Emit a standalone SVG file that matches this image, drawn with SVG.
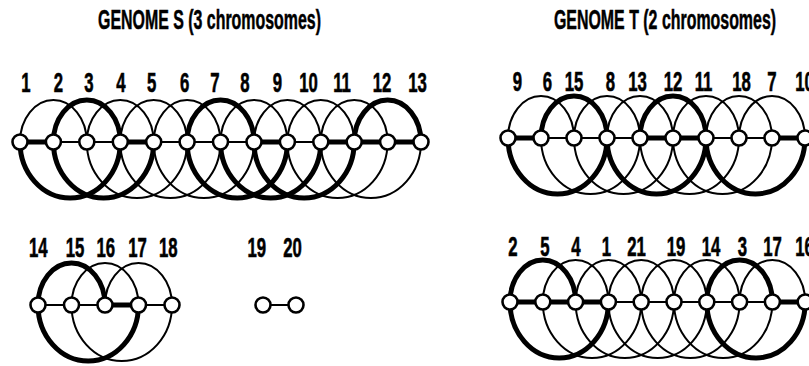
<svg xmlns="http://www.w3.org/2000/svg" width="809" height="366" viewBox="0 0 809 366">
<style>
.bg{fill:#fff}
.t{font-family:"Liberation Sans",Arial,sans-serif;font-weight:bold;font-size:27px;text-anchor:middle;fill:#000;stroke:#000;stroke-width:0.6}
.ti{font-family:"Liberation Sans",Arial,sans-serif;font-weight:bold;font-size:27px;text-anchor:middle;fill:#000;stroke:#000;stroke-width:0.5}
.a{fill:none;stroke:#000;stroke-width:2;stroke-linecap:round}
.k{fill:none;stroke:#000;stroke-width:5;stroke-linecap:round}
.n{fill:#fff;stroke:#000;stroke-width:2.6}
</style>
<rect class="bg" x="0" y="0" width="809" height="366"/>
<g id="titles">
<text class="ti" transform="translate(209.5,29) scale(0.59,1)">GENOME S (3 chromosomes)</text>
<text class="ti" transform="translate(665,29) scale(0.59,1)">GENOME T (2 chromosomes)</text>
</g>
<g id="connectors">
<!-- Genome S chromosome 1 -->
<path class="a" d="M20 142A33.4 42 0 0 1 86.8 142"/>
<path class="k" d="M53.4 142A33.45 42 0 0 1 120.3 142"/>
<path class="a" d="M86.8 142A33.45 42 0 0 1 153.7 142"/>
<path class="a" d="M120.3 142A33.4 42 0 0 1 187.1 142"/>
<path class="a" d="M153.7 142A33.4 42 0 0 1 220.5 142"/>
<path class="k" d="M187.1 142A33.45 42 0 0 1 254 142"/>
<path class="a" d="M220.5 142A33.45 42 0 0 1 287.4 142"/>
<path class="a" d="M254 142A33.4 42 0 0 1 320.8 142"/>
<path class="a" d="M287.4 142A33.4 42 0 0 1 354.2 142"/>
<path class="a" d="M320.8 142A33.4 42 0 0 1 387.6 142"/>
<path class="k" d="M354.2 142A33.4 42 0 0 1 421 142"/>
<path class="k" d="M20 142A50.15 56 0 0 0 120.3 142"/>
<path class="k" d="M53.4 142A50.15 56 0 0 0 153.7 142"/>
<path class="a" d="M86.8 142A50.15 56 0 0 0 187.1 142"/>
<path class="a" d="M120.3 142A50.1 56 0 0 0 220.5 142"/>
<path class="a" d="M153.7 142A50.15 56 0 0 0 254 142"/>
<path class="k" d="M187.1 142A50.15 56 0 0 0 287.4 142"/>
<path class="k" d="M220.5 142A50.15 56 0 0 0 320.8 142"/>
<path class="k" d="M254 142A50.1 56 0 0 0 354.2 142"/>
<path class="a" d="M287.4 142A50.1 56 0 0 0 387.6 142"/>
<path class="a" d="M320.8 142A50.1 56 0 0 0 421 142"/>
<path class="k" d="M20 142H53.4"/>
<path class="a" d="M53.4 142H120.3"/>
<path class="k" d="M120.3 142H153.7"/>
<path class="a" d="M153.7 142H254"/>
<path class="k" d="M254 142H287.4"/>
<path class="a" d="M287.4 142H320.8"/>
<path class="k" d="M320.8 142H421"/>
<!-- Genome S chromosome 2 -->
<path class="k" d="M38 305A33.5 42 0 0 1 105 305"/>
<path class="a" d="M71.5 305A33.5 42 0 0 1 138.5 305"/>
<path class="a" d="M105 305A33.5 42 0 0 1 172 305"/>
<path class="k" d="M38 305A50.25 56 0 0 0 138.5 305"/>
<path class="a" d="M71.5 305A50.25 56 0 0 0 172 305"/>
<path class="a" d="M38 305H105"/>
<path class="k" d="M105 305H138.5"/>
<path class="a" d="M138.5 305H172"/>
<!-- Genome S chromosome 3 -->
<path class="a" d="M263 305H296"/>
<!-- Genome T chromosome 1 -->
<path class="a" d="M508 138A33 42 0 0 1 574 138"/>
<path class="k" d="M541 138A33 42 0 0 1 607 138"/>
<path class="a" d="M574 138A33 42 0 0 1 640 138"/>
<path class="a" d="M607 138A33 42 0 0 1 673 138"/>
<path class="k" d="M640 138A33 42 0 0 1 706 138"/>
<path class="a" d="M673 138A33 42 0 0 1 739 138"/>
<path class="a" d="M706 138A33 42 0 0 1 772 138"/>
<path class="a" d="M739 138A33 42 0 0 1 805 138"/>
<path class="k" d="M508 138A49.5 56 0 0 0 607 138"/>
<path class="a" d="M541 138A49.5 56 0 0 0 640 138"/>
<path class="a" d="M574 138A49.5 56 0 0 0 673 138"/>
<path class="k" d="M607 138A49.5 56 0 0 0 706 138"/>
<path class="a" d="M640 138A49.5 56 0 0 0 739 138"/>
<path class="a" d="M673 138A49.5 56 0 0 0 772 138"/>
<path class="k" d="M706 138A49.5 56 0 0 0 805 138"/>
<path class="k" d="M508 138H541"/>
<path class="a" d="M541 138H640"/>
<path class="k" d="M640 138H706"/>
<path class="a" d="M706 138H772"/>
<path class="k" d="M772 138H805"/>
<!-- Genome T chromosome 2 -->
<path class="k" d="M510 302A32.8 42 0 0 1 575.6 302"/>
<path class="a" d="M542.8 302A32.8 42 0 0 1 608.4 302"/>
<path class="a" d="M575.6 302A32.8 42 0 0 1 641.2 302"/>
<path class="a" d="M608.4 302A32.8 42 0 0 1 674 302"/>
<path class="a" d="M641.2 302A32.8 42 0 0 1 706.8 302"/>
<path class="a" d="M674 302A32.8 42 0 0 1 739.6 302"/>
<path class="k" d="M706.8 302A32.8 42 0 0 1 772.4 302"/>
<path class="a" d="M739.6 302A32.8 42 0 0 1 805.2 302"/>
<path class="k" d="M510 302A49.2 56 0 0 0 608.4 302"/>
<path class="a" d="M542.8 302A49.2 56 0 0 0 641.2 302"/>
<path class="a" d="M575.6 302A49.2 56 0 0 0 674 302"/>
<path class="a" d="M608.4 302A49.2 56 0 0 0 706.8 302"/>
<path class="a" d="M641.2 302A49.2 56 0 0 0 739.6 302"/>
<path class="a" d="M674 302A49.2 56 0 0 0 772.4 302"/>
<path class="k" d="M706.8 302A49.2 56 0 0 0 805.2 302"/>
<path class="k" d="M510 302H608.4"/>
<path class="a" d="M608.4 302H772.4"/>
<path class="k" d="M772.4 302H805.2"/>
</g>
<g id="genomeS">
<g id="s1"><circle class="n" cx="20" cy="142" r="7.5"/><text class="t" transform="translate(26,92) scale(0.62,1)">1</text></g>
<g id="s2"><circle class="n" cx="53.4" cy="142" r="7.5"/><text class="t" transform="translate(58.5,92) scale(0.62,1)">2</text></g>
<g id="s3"><circle class="n" cx="86.8" cy="142" r="7.5"/><text class="t" transform="translate(89,92) scale(0.62,1)">3</text></g>
<g id="s4"><circle class="n" cx="120.3" cy="142" r="7.5"/><text class="t" transform="translate(121,92) scale(0.62,1)">4</text></g>
<g id="s5"><circle class="n" cx="153.7" cy="142" r="7.5"/><text class="t" transform="translate(151.7,92) scale(0.62,1)">5</text></g>
<g id="s6"><circle class="n" cx="187.1" cy="142" r="7.5"/><text class="t" transform="translate(184.7,92) scale(0.62,1)">6</text></g>
<g id="s7"><circle class="n" cx="220.5" cy="142" r="7.5"/><text class="t" transform="translate(215,92) scale(0.62,1)">7</text></g>
<g id="s8"><circle class="n" cx="254" cy="142" r="7.5"/><text class="t" transform="translate(245,92) scale(0.62,1)">8</text></g>
<g id="s9"><circle class="n" cx="287.4" cy="142" r="7.5"/><text class="t" transform="translate(277.5,92) scale(0.62,1)">9</text></g>
<g id="s10"><circle class="n" cx="320.8" cy="142" r="7.5"/><text class="t" transform="translate(308.5,92) scale(0.62,1)">10</text></g>
<g id="s11"><circle class="n" cx="354.2" cy="142" r="7.5"/><text class="t" transform="translate(342,92) scale(0.62,1)">11</text></g>
<g id="s12"><circle class="n" cx="387.6" cy="142" r="7.5"/><text class="t" transform="translate(382,92) scale(0.62,1)">12</text></g>
<g id="s13"><circle class="n" cx="421" cy="142" r="7.5"/><text class="t" transform="translate(417.5,92) scale(0.62,1)">13</text></g>
<g id="s14"><circle class="n" cx="38" cy="305" r="7.5"/><text class="t" transform="translate(38.3,257) scale(0.62,1)">14</text></g>
<g id="s15"><circle class="n" cx="71.5" cy="305" r="7.5"/><text class="t" transform="translate(75,257) scale(0.62,1)">15</text></g>
<g id="s16"><circle class="n" cx="105" cy="305" r="7.5"/><text class="t" transform="translate(105.8,257) scale(0.62,1)">16</text></g>
<g id="s17"><circle class="n" cx="138.5" cy="305" r="7.5"/><text class="t" transform="translate(137.5,257) scale(0.62,1)">17</text></g>
<g id="s18"><circle class="n" cx="172" cy="305" r="7.5"/><text class="t" transform="translate(168.3,257) scale(0.62,1)">18</text></g>
<g id="s19"><circle class="n" cx="263" cy="305" r="7.5"/><text class="t" transform="translate(256.7,257) scale(0.62,1)">19</text></g>
<g id="s20"><circle class="n" cx="296" cy="305" r="7.5"/><text class="t" transform="translate(292.5,257) scale(0.62,1)">20</text></g>
</g>
<g id="genomeT">
<g id="t9"><circle class="n" cx="508" cy="138" r="7.5"/><text class="t" transform="translate(517.5,90.5) scale(0.62,1)">9</text></g>
<g id="t6"><circle class="n" cx="541" cy="138" r="7.5"/><text class="t" transform="translate(547.5,90.5) scale(0.62,1)">6</text></g>
<g id="t15"><circle class="n" cx="574" cy="138" r="7.5"/><text class="t" transform="translate(574,90.5) scale(0.62,1)">15</text></g>
<g id="t8"><circle class="n" cx="607" cy="138" r="7.5"/><text class="t" transform="translate(610.5,90.5) scale(0.62,1)">8</text></g>
<g id="t13"><circle class="n" cx="640" cy="138" r="7.5"/><text class="t" transform="translate(637.5,90.5) scale(0.62,1)">13</text></g>
<g id="t12"><circle class="n" cx="673" cy="138" r="7.5"/><text class="t" transform="translate(673,90.5) scale(0.62,1)">12</text></g>
<g id="t11"><circle class="n" cx="706" cy="138" r="7.5"/><text class="t" transform="translate(703.5,90.5) scale(0.62,1)">11</text></g>
<g id="t18"><circle class="n" cx="739" cy="138" r="7.5"/><text class="t" transform="translate(741.5,90.5) scale(0.62,1)">18</text></g>
<g id="t7"><circle class="n" cx="772" cy="138" r="7.5"/><text class="t" transform="translate(772,90.5) scale(0.62,1)">7</text></g>
<g id="t10"><circle class="n" cx="805" cy="138" r="7.5"/><text class="t" transform="translate(804.5,90.5) scale(0.62,1)">10</text></g>
<g id="t2"><circle class="n" cx="510" cy="302" r="7.5"/><text class="t" transform="translate(513,256) scale(0.62,1)">2</text></g>
<g id="t5"><circle class="n" cx="542.8" cy="302" r="7.5"/><text class="t" transform="translate(545,256) scale(0.62,1)">5</text></g>
<g id="t4"><circle class="n" cx="575.6" cy="302" r="7.5"/><text class="t" transform="translate(576,256) scale(0.62,1)">4</text></g>
<g id="t1"><circle class="n" cx="608.4" cy="302" r="7.5"/><text class="t" transform="translate(606.5,256) scale(0.62,1)">1</text></g>
<g id="t21"><circle class="n" cx="641.2" cy="302" r="7.5"/><text class="t" transform="translate(636.5,256) scale(0.62,1)">21</text></g>
<g id="t19"><circle class="n" cx="674" cy="302" r="7.5"/><text class="t" transform="translate(676,256) scale(0.62,1)">19</text></g>
<g id="t14"><circle class="n" cx="706.8" cy="302" r="7.5"/><text class="t" transform="translate(711,256) scale(0.62,1)">14</text></g>
<g id="t3"><circle class="n" cx="739.6" cy="302" r="7.5"/><text class="t" transform="translate(742.5,256) scale(0.62,1)">3</text></g>
<g id="t17"><circle class="n" cx="772.4" cy="302" r="7.5"/><text class="t" transform="translate(772.5,256) scale(0.62,1)">17</text></g>
<g id="t16"><circle class="n" cx="805.2" cy="302" r="7.5"/><text class="t" transform="translate(804.5,256) scale(0.62,1)">16</text></g>
</g>
</svg>
